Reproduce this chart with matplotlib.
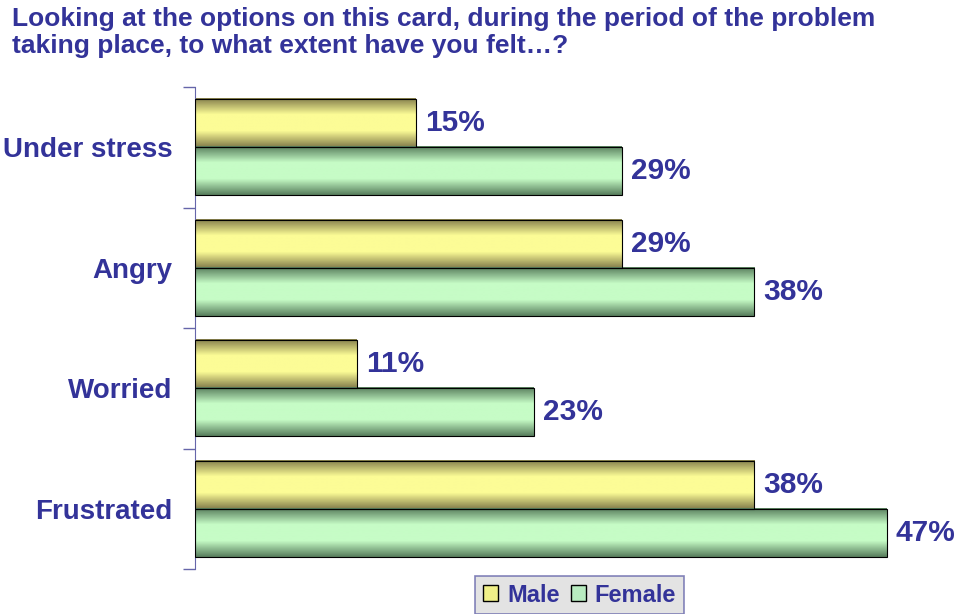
import numpy as np
import matplotlib
matplotlib.use("Agg")
from matplotlib import pyplot as plt
from matplotlib.colors import LinearSegmentedColormap
from matplotlib.patches import Patch

plt.rcParams['font.family'] = ['Liberation Sans', 'DejaVu Sans']

title = "Looking at the options on this card, during the period of the problem\ntaking place, to what extent have you felt\u2026?"
categories = ["Under stress", "Angry", "Worried", "Frustrated"]
male = [15, 29, 11, 38]
female = [29, 38, 23, 47]

text_col = '#333399'
spine_col = '#6666aa'

fig = plt.figure(figsize=(9.61, 6.14), dpi=100)
ax = fig.add_axes([195/961, 1 - 569/614, 736/961, (569 - 87)/614])

y = np.arange(len(categories))
h = 0.4
bars_m = ax.barh(y - h/2, male, height=h, color='none', edgecolor='black', lw=0.8, zorder=3)
bars_f = ax.barh(y + h/2, female, height=h, color='none', edgecolor='black', lw=0.8, zorder=3)

# vertical gradient: darker at top and bottom, light in the middle
def grad_cmap(edge, mid):
    return LinearSegmentedColormap.from_list('g', [edge, mid, mid, edge], N=256)

cm_m = grad_cmap('#857f4c', '#fcfc96')
cm_f = grad_cmap('#587e5d', '#c6fcc6')
g = np.linspace(0, 1, 64).reshape(-1, 1)
for bars, cm in ((bars_m, cm_m), (bars_f, cm_f)):
    for b in bars:
        x0, y0 = b.get_x(), b.get_y()
        ax.imshow(g, cmap=cm, aspect='auto', extent=(x0, x0 + b.get_width(), y0 + b.get_height(), y0),
                  zorder=2, interpolation='bilinear')

for bars in (bars_m, bars_f):
    ax.bar_label(bars, labels=[f"{v}%" for v in bars.datavalues], padding=6.5,
                 fontsize=21.5, fontweight='bold', color=text_col)

ax.set_xlim(0, 50)
ax.set_ylim(len(categories) - 0.5, -0.5)
ax.set_yticks(y)
ax.set_yticklabels(categories, fontsize=20, fontweight='bold', color=text_col)
ax.tick_params(axis='y', which='major', length=0, pad=16)
ax.set_yticks(np.arange(len(categories) + 1) - 0.5, minor=True)
ax.tick_params(axis='y', which='minor', length=9, color=spine_col, width=1)
ax.set_xticks([])
for s in ('top', 'right', 'bottom'):
    ax.spines[s].set_visible(False)
ax.spines['left'].set_color(spine_col)

fig.text(12/961, 1 - 7/614, title, ha='left', va='top', fontsize=19, fontweight='bold',
         color=text_col, linespacing=1.18)

handles = [Patch(facecolor='#f0f088', edgecolor='black', label='Male'),
           Patch(facecolor='#b8ecc0', edgecolor='black', label='Female')]
leg = fig.legend(handles=handles, loc='upper center', bbox_to_anchor=(579.5/961, 1 - 576/614), ncol=2,
                 frameon=True, fancybox=False, facecolor='#dcdcdc', edgecolor=spine_col,
                 prop={'weight': 'bold', 'size': 17}, handlelength=0.64, handleheight=0.64,
                 handletextpad=0.38, columnspacing=0.47, borderpad=0.32, borderaxespad=0)
for t in leg.get_texts():
    t.set_color(text_col)
leg.get_frame().set_linewidth(1.2)

fig.savefig('out.png', dpi=100)
